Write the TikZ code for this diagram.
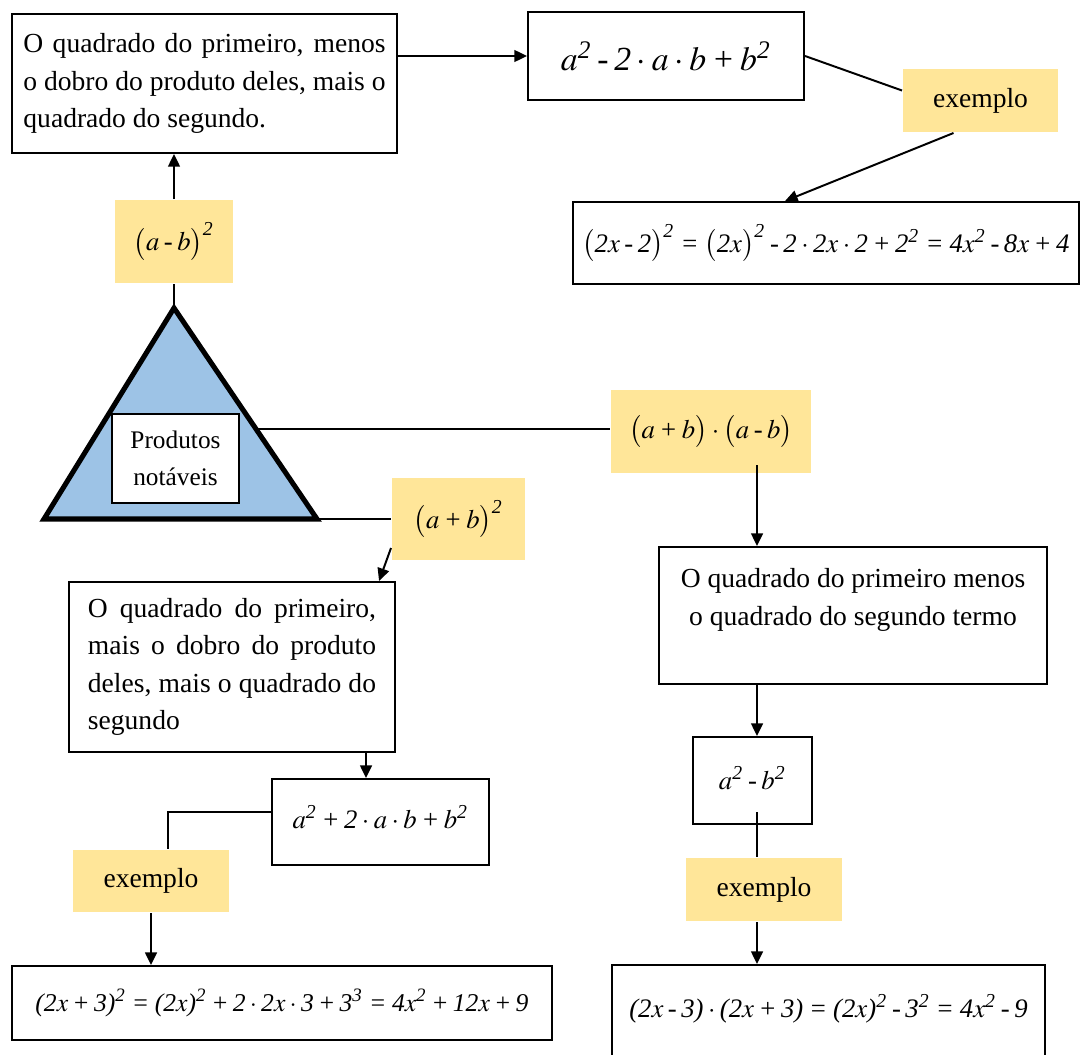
\documentclass[tikz,border=0pt]{standalone}
\usepackage{mathptmx}
\usepackage{fontspec}
\setmainfont{Liberation Serif}
\edef\opfont{\noexpand\DeclareSymbolFont{operators}{TU}{\rmdefault}{m}{it}}\opfont
\usetikzlibrary{arrows.meta,calc}
\definecolor{amarelo}{RGB}{255,230,153}
\definecolor{azul}{RGB}{157,195,230}
\newcommand{\mn}{\mathbin{\mbox{-}}}
\medmuskip=3mu
\thickmuskip=4mu

\begin{document}
\begin{tikzpicture}[x=0.0125cm, y=-0.0125cm, line width=0.7pt,
    >={Triangle[length=4.5pt,width=4.2pt]},
    font=\fontsize{9.8}{13.3}\selectfont,
    caixa/.style={draw, line width=0.7pt, inner sep=0pt},
    rotulo/.style={fill=amarelo, inner sep=0pt},
    formula/.style={font=\fontsize{9.5}{12}\selectfont}]
    \useasboundingbox (0,0) rectangle (1081,1054);
    \clip (0,0) rectangle (1081,1054);

    \draw[line width=1.8pt, fill=azul] (174,308) coordinate (topo) -- (44,519) coordinate (base1)
        -- (317,519) coordinate (base2) -- cycle;
    \coordinate (lado) at ($(topo)!0.5735!(base2)$);
    \node[draw, fill=white, line width=0.4pt, minimum width=1.5875cm, minimum height=1.1125cm,
        align=center, font=\fontsize{9}{13.1}\selectfont] (prod) at (175.5,458.5) {Produtos\\notáveis};

    \node[caixa, minimum width=4.8125cm, minimum height=1.7375cm, text width=4.525cm, align=justify]
        (qmenos) at (204.5,83.5) {O quadrado do primeiro, menos\linebreak o dobro do produto deles, mais o\linebreak quadrado do segundo.};
    \node[caixa, minimum width=3.45cm, minimum height=1.1cm, font=\fontsize{12}{14}\selectfont]
        (fmenos) at (666,56) {$a^2\mn 2\cdot a\cdot b+b^2$};
    \node[rotulo, minimum width=1.9375cm, minimum height=0.7875cm] (exA) at (980.5,100.5) {exemplo};
    \node[caixa, minimum width=6.325cm, minimum height=1.025cm, formula] (exmenos) at (826,243)
        {$\bigl(2x\mn 2\bigr)^2=\bigl(2x\bigr)^2\mn 2\cdot 2x\cdot 2+2^2=4x^2\mn 8x+4$};
    \node[rotulo, minimum width=1.4625cm, minimum height=1.0375cm, formula] (qab) at (174,241.5) {$\bigl(a\mn b\bigr)^2$};

    \node[rotulo, minimum width=2.5cm, minimum height=1.0375cm, formula] (qdiff) at (711,431.5)
        {$\bigl(a+b\bigr)\cdot\bigl(a\mn b\bigr)$};
    \node[caixa, minimum width=4.85cm, minimum height=1.7125cm, align=center] (rdesc) at (853,615.5)
        {O quadrado do primeiro menos\\o quadrado do segundo termo\\ \mbox{}};
    \node[caixa, minimum width=1.4875cm, minimum height=1.0875cm, formula] (ab2m) at (752.5,780.5)
        {\raisebox{0.0625cm}{$a^2\mn b^2$}};
    \node[rotulo, minimum width=1.95cm, minimum height=0.7875cm] (ex3) at (764,889.5) {exemplo};
    \node[caixa, minimum width=5.4125cm, minimum height=1.1875cm, formula] (resR) at (828.5,1012.5)
        {\raisebox{0.156cm}{$(2x\mn 3)\cdot(2x+3)=(2x)^2\mn 3^2=4x^2\mn 9$}};

    \node[rotulo, minimum width=1.6625cm, minimum height=1.025cm, formula] (qpab) at (458.5,519) {$\bigl(a+b\bigr)^2$};
    \node[caixa, minimum width=4.075cm, minimum height=2.125cm, text width=3.6cm, align=justify]
        (ldesc) at (232,667) {O quadrado do primeiro,\linebreak mais o dobro do produto\linebreak deles, mais o quadrado do\linebreak segundo};
    \node[caixa, minimum width=2.7125cm, minimum height=1.075cm, formula] (abplus) at (380.5,822)
        {\raisebox{0.125cm}{$a^2+2\cdot a\cdot b+b^2$}};
    \node[rotulo, minimum width=1.95cm, minimum height=0.775cm] (exL) at (151,881) {exemplo};
    \node[caixa, minimum width=6.75cm, minimum height=0.925cm, font=\fontsize{9.1}{12}\selectfont] (resL) at (282,1003)
        {$(2x+3)^2=(2x)^2+2\cdot 2x\cdot 3+3^3=4x^2+12x+9$};

    \coordinate (colR) at (757,0);
    \coordinate (colL) at (366,0);

    \draw[->] (qmenos.east |- fmenos.west) -- (fmenos.west);
    \draw (fmenos.east) -- ($(exA.west)+(0,-10)$);
    \draw[->] ($(exA.south)+(-27,0)$) -- ($(exmenos.north)+(-41,0)$);
    \draw[->] (qab.north) -- (qab.north |- qmenos.south);
    \draw (qab.south) -- (topo);

    \draw (lado) -- (lado -| qdiff.west);
    \draw[->] ($(colR |- qdiff.south)+(0,-9)$) -- (colR |- rdesc.north);
    \draw[->] (colR |- rdesc.south) -- (colR |- ab2m.north);
    \draw ($(colR |- ab2m.south)+(0,-13)$) -- (colR |- ex3.north);
    \draw[->] (colR |- ex3.south) -- (colR |- resR.north);

    \draw (base2) -- (qpab.west);
    \draw[->] ($(qpab.west)+(0,29)$) -- ($(ldesc.north east)+(-17,0)$);
    \draw[->] (colL |- ldesc.south) -- (colL |- abplus.north);
    \draw ($(abplus.west)+(0,-10)$) -| ($(exL.north)+(17,0)$);
    \draw[->] (exL.south) -- (exL.south |- resL.north);
\end{tikzpicture}
\end{document}
